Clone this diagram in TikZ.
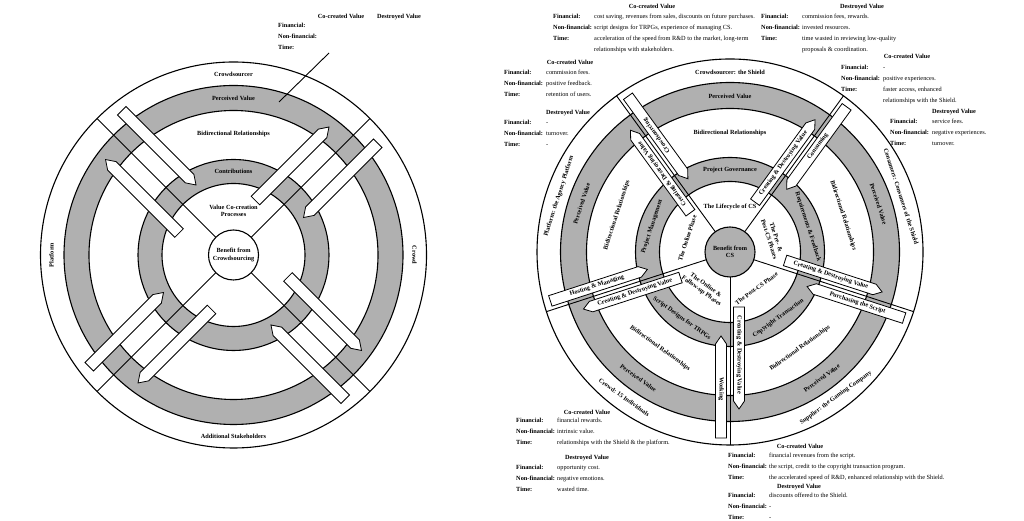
\documentclass[tikz,border=0pt]{standalone}
\usepackage{fontspec}
\setmainfont{Liberation Serif}
\usepackage{tikz}
\definecolor{ringgrey}{gray}{0.69}
\newlength{\vlw}
\newcommand{\vrow}[2]{\makebox[\vlw][l]{\textbf{#1}}#2\\}
\newcommand{\vblock}[2]{\setlength{\vlw}{#1}\begin{tabular}[t]{@{}l@{}}#2\end{tabular}}
\tikzset{
  ringline/.style={draw=black, line width=1.1pt},
  spoke/.style={draw=black, line width=0.9pt},
  flowarrow/.style={draw=black, fill=white, line width=0.8pt},
  ringlabel/.style={font=\fontsize{6.3}{7.3}\selectfont\bfseries, align=center, inner sep=0pt},
  arrowlabel/.style={font=\fontsize{6.3}{7.3}\selectfont\bfseries, inner sep=0pt},
  valhead/.style={font=\fontsize{6.3}{7.3}\selectfont\bfseries, inner sep=0pt, anchor=base},
  valblock/.style={font=\fontsize{6.3}{11}\selectfont, inner sep=0pt, anchor=base west},
}

\begin{document}
\begin{tikzpicture}[x=1pt, y=1pt]
\useasboundingbox (0,0) rectangle (1024,521);

% generic model
\begin{scope}[shift={(233.5,266)}]
  \draw[ringline] (0,0) circle (193);
  \draw[ringline, fill=ringgrey] (0,0) circle (169.5);
  \draw[ringline, fill=white] (0,0) circle (144.5);
  \draw[ringline, fill=ringgrey] (0,0) circle (95.5);
  \draw[ringline, fill=white] (0,0) circle (71.5);
  \foreach \ang in {45,135,225,315} {
    \draw[spoke] (\ang:25) -- (\ang:193);
    \begin{scope}[rotate=\ang]
      \draw[flowarrow] (181,-29) -- (85,-29) -- (76,-23) -- (85,-17) -- (181,-17) -- cycle;
      \draw[flowarrow] (54,17) -- (149,17) -- (158,23) -- (149,29) -- (54,29) -- cycle;
    \end{scope}
  }
  \draw[ringline, fill=white] (0,0) circle (25);
  \node[ringlabel] (lbenefit) at (0,0) {Benefit from\\Crowdsourcing};
  \node[ringlabel] (lprocess) at (90:44) {Value Co-creation\\Processes};
  \node[ringlabel] (lcontrib) at (90:84) {Contributions};
  \node[ringlabel] (lbidir) at (90:121) {Bidirectional Relationships};
  \node[ringlabel] (lperc) at (90:157) {Perceived Value};
  \node[ringlabel] (lsourcer) at (90:181) {Crowdsourcer};
  \node[ringlabel, rotate=90] (lplatform) at (180:182) {Platform};
  \node[ringlabel, rotate=-90] (lcrowd) at (0:181) {Crowd};
  \node[ringlabel] (lothers) at (270:181) {Additional Stakeholders};
\end{scope}

\node[valhead] (lhco) at (341,502) {Co-created Value};
\node[valhead] (lhde) at (399,502) {Destroyed Value};
\node[valblock] (lhrows) at (278,493) {\vblock{40pt}{\vrow{Financial:}{}\vrow{Non-financial:}{}\vrow{Time:}{}}};
\coordinate (lnA) at (329,468);
\coordinate (lnB) at (279,419);
\draw[spoke] (lnA) -- (lnB);

% the Shield case
\begin{scope}[shift={(730,269)}]
  \draw[ringline] (0,0) circle (193);
  \draw[ringline, fill=ringgrey] (0,0) circle (169.5);
  \draw[ringline, fill=white] (0,0) circle (143.5);
  \draw[ringline, fill=ringgrey] (0,0) circle (94.5);
  \draw[ringline, fill=white] (0,0) circle (70.5);
  \foreach \ang/\rot/\intxt in {54/54/Consuming, 126/126/Crowdsourcing,
      198/18/{Hosting \& Managing}, 270/-90/Working, 342/-18/{Purchasing the Script}} {
    \draw[spoke] (\ang:25) -- (\ang:193);
    \begin{scope}[rotate=\ang]
      \draw[flowarrow] (186,-14.5) -- (92,-14.5) -- (84,-9) -- (92,-3.5) -- (186,-3.5) -- cycle;
      \draw[flowarrow] (55,3.5) -- (149,3.5) -- (157,9) -- (149,14.5) -- (55,14.5) -- cycle;
      \node[arrowlabel, rotate=\rot] (ain\ang) at (137,-9) {\intxt};
      \node[arrowlabel, rotate=\rot] (aout\ang) at (103,9) {Creating \& Destroying Value};
    \end{scope}
  }
  \foreach \ang/\rot/\otxt/\gtxt/\ctxt in {
      90/0/{Crowdsourcer: the Shield}/{Project Governance}/{The Lifecycle of CS},
      18/-72/{Consumers: Consumers of the Shield}/{Requirements \& Feedback}/{The Pre- \&\\Post-CS Phases},
      306/36/{Supplier: the Gaming Company}/{Copyright Transaction}/{The Post-CS Phase},
      234/-36/{Crowd: 15 Individuals}/{Script Designs for TRPGs}/{The Online \&\\Follow-up Phases},
      162/72/{Platform: the Agency Platform}/{Project Management}/{The Online Phase}} {
    \node[ringlabel, rotate=\rot] (so\ang) at (\ang:180) {\otxt};
    \node[ringlabel, rotate=\rot] (sp\ang) at (\ang:156) {Perceived Value};
    \node[ringlabel, rotate=\rot] (sb\ang) at (\ang:119) {Bidirectional Relationships};
    \node[ringlabel, rotate=\rot] (sg\ang) at (\ang:82) {\gtxt};
    \node[ringlabel, rotate=\rot] (sc\ang) at (\ang:45) {\ctxt};
  }
  \draw[ringline, fill=ringgrey] (0,0) circle (25);
  \node[ringlabel] (rbenefit) at (0,0) {Benefit from\\CS};
\end{scope}

% crowdsourcer
\node[valhead] (tco) at (652,512) {Co-created Value};
\node[valblock] (tcorows) at (553,502) {\vblock{41pt}{%
  \vrow{Financial:}{cost saving, revenues from sales, discounts on future purchases.}%
  \vrow{Non-financial:}{script designs for TRPGs, experience of managing CS.}%
  \vrow{Time:}{acceleration of the speed from R\&D to the market, long-term}%
  \vrow{}{relationships with stakeholders.}}};
\node[valhead] (tde) at (862,512) {Destroyed Value};
\node[valblock] (tderows) at (761,502) {\vblock{41pt}{%
  \vrow{Financial:}{commission fees, rewards.}%
  \vrow{Non-financial:}{invested resources.}%
  \vrow{Time:}{time wasted in reviewing low-quality}%
  \vrow{}{proposals \& coordination.}}};

% platform
\node[valhead] (pco) at (570,456) {Co-created Value};
\node[valblock] (pcorows) at (504,446) {\vblock{42pt}{%
  \vrow{Financial:}{commission fees.}%
  \vrow{Non-financial:}{positive feedback.}%
  \vrow{Time:}{retention of users.}}};
\node[valhead] (pde) at (568,406) {Destroyed Value};
\node[valblock] (pderows) at (504,396) {\vblock{42pt}{%
  \vrow{Financial:}{-}%
  \vrow{Non-financial:}{turnover.}%
  \vrow{Time:}{-}}};

% consumers
\node[valhead] (cco) at (907,462) {Co-created Value};
\node[valblock] (ccorows) at (841,451) {\vblock{42pt}{%
  \vrow{Financial:}{-}%
  \vrow{Non-financial:}{positive experiences.}%
  \vrow{Time:}{faster access, enhanced}%
  \vrow{}{relationships with the Shield.}}};
\node[valhead] (cde) at (954,407) {Destroyed Value};
\node[valblock] (cderows) at (890,397) {\vblock{42pt}{%
  \vrow{Financial:}{service fees.}%
  \vrow{Non-financial:}{negative experiences.}%
  \vrow{Time:}{turnover.}}};

% crowd
\node[valhead] (wco) at (587,106) {Co-created Value};
\node[valblock] (wcorows) at (516,98) {\vblock{41pt}{%
  \vrow{Financial:}{financial rewards.}%
  \vrow{Non-financial:}{intrinsic value.}%
  \vrow{Time:}{relationships with the Shield \& the platform.}}};
\node[valhead] (wde) at (587,61) {Destroyed Value};
\node[valblock] (wderows) at (516,51) {\vblock{41pt}{%
  \vrow{Financial:}{opportunity cost.}%
  \vrow{Non-financial:}{negative emotions.}%
  \vrow{Time:}{wasted time.}}};

% supplier
\node[valhead] (gco) at (800,72) {Co-created Value};
\node[valblock] (gcorows) at (728,63) {\vblock{41pt}{%
  \vrow{Financial:}{financial revenues from the script.}%
  \vrow{Non-financial:}{the script, credit to the copyright transaction program.}%
  \vrow{Time:}{the accelerated speed of R\&D, enhanced relationship with the Shield.}}};
\node[valhead] (gde) at (799,32) {Destroyed Value};
\node[valblock] (gderows) at (728,23) {\vblock{41pt}{%
  \vrow{Financial:}{discounts offered to the Shield.}%
  \vrow{Non-financial:}{-}%
  \vrow{Time:}{-}}};
\end{tikzpicture}
\end{document}
